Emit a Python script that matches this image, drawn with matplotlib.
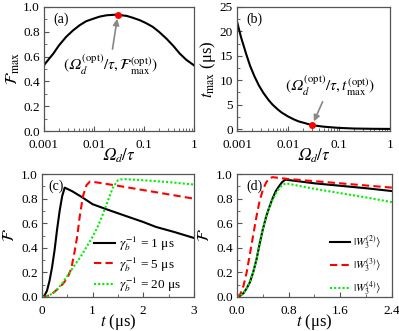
import matplotlib
matplotlib.use("Agg")
import matplotlib.pyplot as plt
from matplotlib.ticker import MultipleLocator

plt.rcParams['font.family'] = 'serif'
plt.rcParams['font.serif'] = ['Liberation Serif', 'DejaVu Serif']
plt.rcParams['mathtext.fontset'] = 'stix'

# (a) F_max vs Omega_d/tau
omega_a = [0.001, 0.0012, 0.00155, 0.002, 0.0028, 0.0038, 0.0052, 0.007, 0.0097, 0.013, 0.018,
           0.028, 0.045, 0.06, 0.083, 0.11, 0.15, 0.2, 0.28, 0.38, 0.52, 0.7, 1.0]
fmax_a = [0.53, 0.57, 0.625, 0.69, 0.76, 0.81, 0.853, 0.885, 0.905, 0.922, 0.933,
          0.938, 0.928, 0.913, 0.893, 0.87, 0.84, 0.8, 0.746, 0.69, 0.625, 0.575, 0.53]
opt_a = (0.03, 0.937)

# (b) t_max vs Omega_d/tau
omega_b = [0.001, 0.0012, 0.0015, 0.0018, 0.0022, 0.0027, 0.0033, 0.0042, 0.005, 0.0062, 0.0075,
           0.01, 0.013, 0.016, 0.022, 0.03, 0.05, 0.1, 0.2, 0.5, 1.0]
tmax_b = [22.0, 18.8, 15.5, 13.0, 10.8, 8.9, 7.4, 5.9, 5.0, 4.1, 3.4,
          2.6, 2.0, 1.6, 1.2, 0.8, 0.5, 0.25, 0.12, 0.06, 0.04]
opt_b = (0.03, 0.8)

# (c) F vs t for three gamma_b^-1
t_c1 = [0, 0.05, 0.1, 0.15, 0.2, 0.25, 0.3, 0.35, 0.4, 0.45, 0.6, 0.8, 1.0, 1.3, 1.6, 2.0, 2.25, 2.6, 3.0]
f_c1 = [0, 0.01, 0.05, 0.13, 0.24, 0.38, 0.55, 0.7, 0.82, 0.89, 0.86, 0.81, 0.755, 0.71, 0.667, 0.61, 0.57, 0.53, 0.48]
t_c2 = [0, 0.1, 0.2, 0.3, 0.4, 0.5, 0.58, 0.65, 0.7, 0.745, 0.81, 0.88, 0.95, 1.2, 1.5, 2.0, 2.5, 3.0]
f_c2 = [0, 0.005, 0.025, 0.06, 0.1, 0.15, 0.23, 0.38, 0.5, 0.65, 0.82, 0.91, 0.94, 0.925, 0.905, 0.87, 0.835, 0.8]
t_c3 = [0, 0.1, 0.2, 0.3, 0.4, 0.5, 0.6, 0.7, 0.8, 0.9, 1.0, 1.1, 1.2, 1.3, 1.4, 1.5, 1.6, 2.0, 2.5, 3.0]
f_c3 = [0, 0.005, 0.025, 0.06, 0.11, 0.17, 0.23, 0.29, 0.35, 0.42, 0.49, 0.57, 0.67, 0.78, 0.89, 0.95, 0.96, 0.95, 0.935, 0.915]
labels_c = [r'$\gamma_b^{-1}$ = 1 μs', r'$\gamma_b^{-1}$ = 5 μs', r'$\gamma_b^{-1}$ = 20 μs']

# (d) F vs t for three W states
t_d1 = [0, 0.05, 0.1, 0.15, 0.2, 0.25, 0.3, 0.35, 0.4, 0.45, 0.5, 0.55, 0.6, 0.65, 0.7, 0.75, 1.2, 1.6, 2.0, 2.4]
f_d1 = [0, 0.01, 0.03, 0.07, 0.12, 0.2, 0.3, 0.43, 0.55, 0.65, 0.73, 0.8, 0.86, 0.9, 0.935, 0.955, 0.925, 0.905, 0.885, 0.862]
t_d2 = [0, 0.05, 0.1, 0.15, 0.2, 0.25, 0.3, 0.35, 0.4, 0.45, 0.5, 0.55, 0.8, 1.6, 2.4]
f_d2 = [0, 0.02, 0.09, 0.2, 0.35, 0.5, 0.65, 0.78, 0.87, 0.93, 0.965, 0.975, 0.96, 0.925, 0.89]
t_d3 = [0, 0.05, 0.1, 0.15, 0.2, 0.25, 0.3, 0.35, 0.4, 0.45, 0.5, 0.55, 0.6, 0.65, 0.7, 0.76, 1.2, 1.6, 2.0, 2.4]
f_d3 = [0, 0.01, 0.03, 0.07, 0.12, 0.2, 0.3, 0.43, 0.55, 0.65, 0.73, 0.79, 0.84, 0.88, 0.91, 0.925, 0.88, 0.845, 0.81, 0.772]
labels_d = [r'$|W_3^{(2)}\rangle$', r'$|W_3^{(3)}\rangle$', r'$|W_3^{(4)}\rangle$']

spine_col = '#555555'
OM = '\U0001D6FA'  # italic capital omega


def style(ax):
    for s in ax.spines.values():
        s.set_color(spine_col)
        s.set_linewidth(0.9)
    ax.tick_params(which='both', direction='in', top=False, right=False,
                   labelsize=9.5, pad=3, color=spine_col)
    ax.tick_params(axis='x', which='both', pad=5.5)
    ax.tick_params(which='major', length=3.5)
    ax.tick_params(which='minor', length=2)


fig = plt.figure(figsize=(3.99, 3.31), dpi=100)
ax_a = fig.add_axes([0.110, 0.604, 0.376, 0.375])
ax_b = fig.add_axes([0.594, 0.604, 0.383, 0.375])
ax_c = fig.add_axes([0.105, 0.103, 0.381, 0.371])
ax_d = fig.add_axes([0.594, 0.103, 0.388, 0.371])

# panel a
ax_a.plot(omega_a, fmax_a, color='black', lw=1.5)
ax_a.plot(*opt_a, 'o', color='red', ms=4, zorder=5)
ax_a.set_xscale('log')
ax_a.set_xlim(0.001, 1)
ax_a.set_ylim(0, 1)
ax_a.set_xticks([0.001, 0.01, 0.1, 1])
ax_a.set_xticklabels(['0.001', '0.01', '0.1', '1'])
ax_a.yaxis.set_major_locator(MultipleLocator(0.2))
ax_a.yaxis.set_minor_locator(MultipleLocator(0.1))
ax_a.set_xlabel('$' + OM + r'_d/\tau$', fontsize=12, labelpad=-3)
ax_a.set_ylabel(r'$\mathcal{F}_{\max}$', fontsize=12, labelpad=1)
ax_a.text(0.06, 0.9, '(a)', transform=ax_a.transAxes, fontsize=10, va='center')
ax_a.annotate('$(' + OM + r'_d^{(\mathrm{opt})}/\tau, \mathcal{F}_{\max}^{(\mathrm{opt})})$',
              xy=opt_a, xytext=(0.021, 0.53), fontsize=11, ha='center', va='center',
              arrowprops=dict(arrowstyle='-|>', color='#888888', lw=1.2, shrinkA=1, shrinkB=3,
                              mutation_scale=9))
style(ax_a)

# panel b
ax_b.plot(omega_b, tmax_b, color='black', lw=1.5)
ax_b.plot(*opt_b, 'o', color='red', ms=4, zorder=5)
ax_b.set_xscale('log')
ax_b.set_xlim(0.001, 1)
ax_b.set_ylim(-0.4, 25)
ax_b.set_xticks([0.001, 0.01, 0.1, 1])
ax_b.set_xticklabels(['0.001', '0.01', '0.1', '1'])
ax_b.yaxis.set_major_locator(MultipleLocator(5))
ax_b.yaxis.set_minor_locator(MultipleLocator(2.5))
ax_b.set_xlabel('$' + OM + r'_d/\tau$', fontsize=12, labelpad=-3)
ax_b.set_ylabel(r'$t_{\max}$ (μs)', fontsize=12, labelpad=1)
ax_b.text(0.06, 0.9, '(b)', transform=ax_b.transAxes, fontsize=10, va='center')
ax_b.annotate('$(' + OM + r'_d^{(\mathrm{opt})}/\tau, t_{\max}^{(\mathrm{opt})})$',
              xy=opt_b, xytext=(0.066, 8.9), fontsize=11, ha='center', va='center',
              arrowprops=dict(arrowstyle='-|>', color='#888888', lw=1.2, shrinkA=1, shrinkB=3,
                              mutation_scale=9))
style(ax_b)

# panel c
ax_c.plot(t_c1, f_c1, color='black', lw=1.5, label=labels_c[0])
ax_c.plot(t_c2, f_c2, color='red', lw=1.5, ls=(0, (3.5, 2)), label=labels_c[1])
ax_c.plot(t_c3, f_c3, color='#00ee00', lw=1.5, ls=(0, (1, 1)), label=labels_c[2])
ax_c.set_xlim(0, 3)
ax_c.set_ylim(0, 1)
ax_c.xaxis.set_major_locator(MultipleLocator(1))
ax_c.xaxis.set_minor_locator(MultipleLocator(0.5))
ax_c.yaxis.set_major_locator(MultipleLocator(0.2))
ax_c.yaxis.set_minor_locator(MultipleLocator(0.1))
ax_c.set_xlabel(r'$t$ (μs)', fontsize=12, labelpad=-3.5)
ax_c.set_ylabel(r'$\mathcal{F}$', fontsize=12, labelpad=2)
ax_c.text(0.04, 0.9, '(c)', transform=ax_c.transAxes, fontsize=10, va='center')
ax_c.legend(loc='lower right', frameon=False, fontsize=9.5, handlelength=1.6,
            handletextpad=0.3, labelspacing=0.1, borderaxespad=0.2,
            bbox_to_anchor=(0.97, -0.04))
style(ax_c)

# panel d
ax_d.plot(t_d1, f_d1, color='black', lw=1.5, label=labels_d[0])
ax_d.plot(t_d2, f_d2, color='red', lw=1.5, ls=(0, (3.5, 2)), label=labels_d[1])
ax_d.plot(t_d3, f_d3, color='#00ee00', lw=1.5, ls=(0, (1, 1)), label=labels_d[2])
ax_d.set_xlim(0, 2.4)
ax_d.set_ylim(0, 1)
ax_d.set_xticks([0, 0.8, 1.6, 2.4])
ax_d.set_xticklabels(['0.0', '0.8', '1.6', '2.4'])
ax_d.xaxis.set_minor_locator(MultipleLocator(0.4))
ax_d.yaxis.set_major_locator(MultipleLocator(0.2))
ax_d.yaxis.set_minor_locator(MultipleLocator(0.1))
ax_d.set_xlabel(r'$t$ (μs)', fontsize=12, labelpad=-3.5)
ax_d.set_ylabel(r'$\mathcal{F}$', fontsize=12, labelpad=2)
ax_d.text(0.06, 0.9, '(d)', transform=ax_d.transAxes, fontsize=10, va='center')
ax_d.legend(loc='lower right', frameon=False, fontsize=8, handlelength=1.8,
            handletextpad=0.3, labelspacing=0.45, borderaxespad=0.3,
            bbox_to_anchor=(0.98, -0.07))
style(ax_d)

fig.savefig('out.png', dpi=100)
